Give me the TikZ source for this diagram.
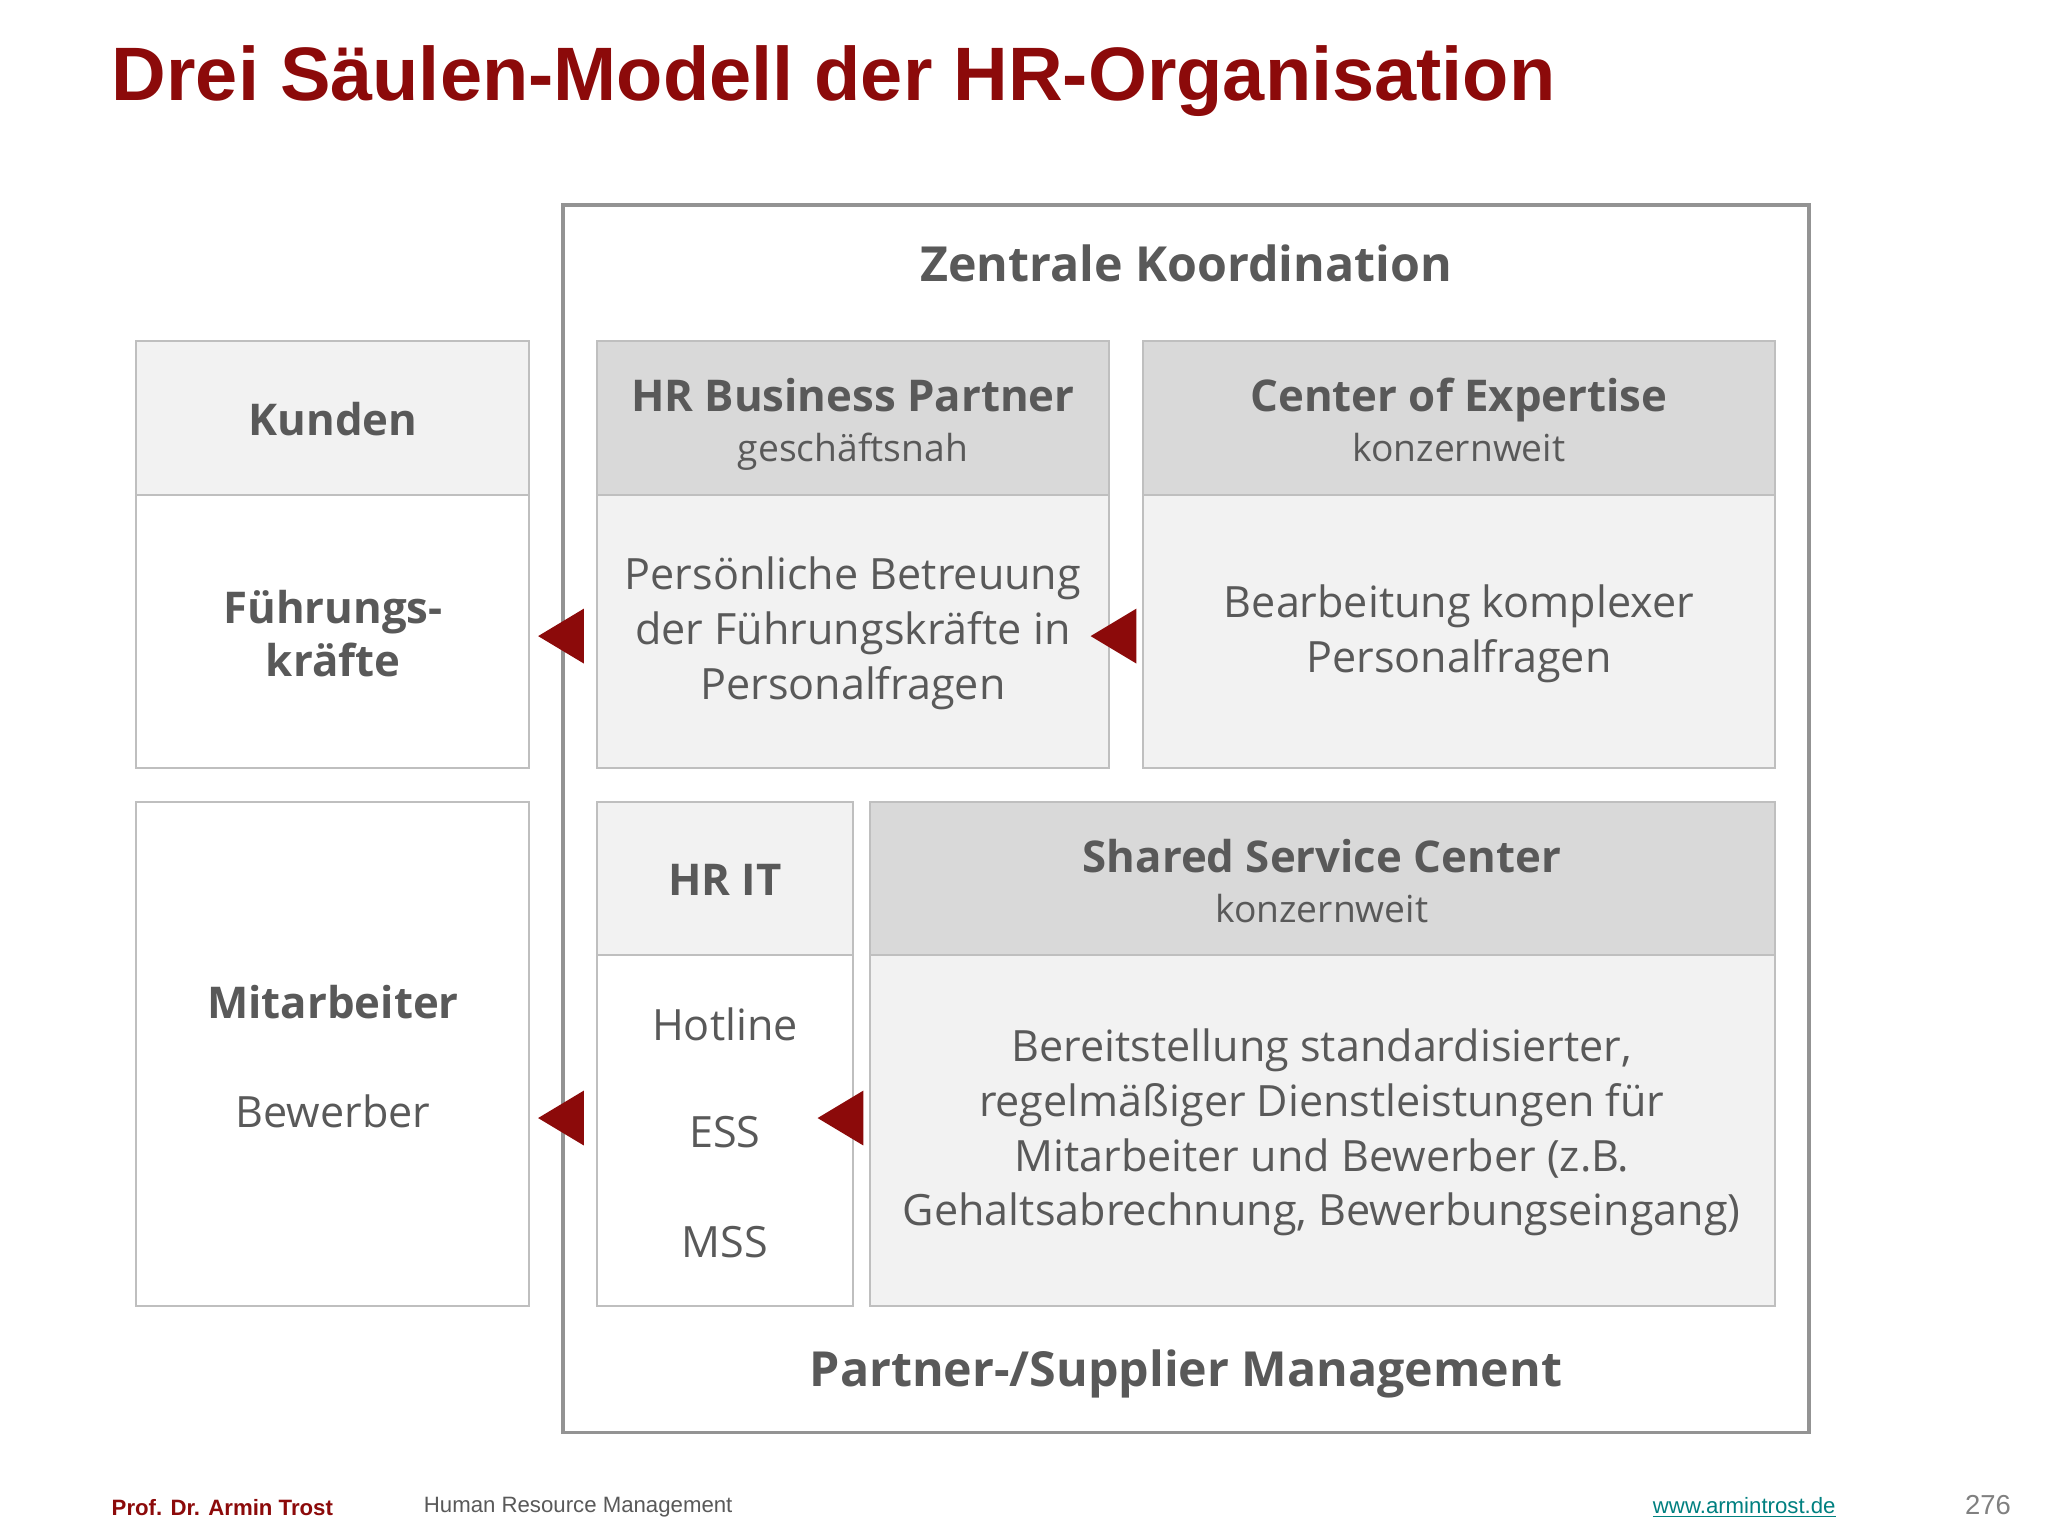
\documentclass[tikz,border=0pt]{standalone}
\usepackage{fontspec}
\setmainfont{Open Sans}
\newfontfamily\titlefont{Liberation Sans}
\begin{document}
\begin{tikzpicture}[x=1pt,y=-1pt,
  txt/.style={text=tg,align=center,font=\fontsize{33}{42}\selectfont},
  sub/.style={text=tg,anchor=base,font=\fontsize{28.5}{30}\selectfont},
  hd/.style={text=tg,align=center,font=\fontsize{33.5}{40}\selectfont\bfseries},
  hb/.style={hd,anchor=base},
  bx/.style={draw=bc,line width=1.5pt},
  tri/.style={fill=tr}]
\definecolor{tg}{HTML}{595959}
\definecolor{bc}{HTML}{BFBFBF}
\definecolor{tr}{HTML}{8C0A0A}
\definecolor{hdark}{HTML}{D9D9D9}
\definecolor{hlight}{HTML}{F2F2F2}
\useasboundingbox (0,0) rectangle (1568,1176);
\fill[white] (0,0) rectangle (1568,1176);
\node[anchor=west,text=tr,font=\titlefont\fontsize{58}{60}\selectfont\bfseries] (title) at (82,62) {Drei Säulen-Modell der HR-Organisation};
\draw[draw=gray!85,line width=2.5pt] (431,157) rectangle (1385,1097);
\node[hd,font=\fontsize{37}{40}\selectfont\bfseries] (zk) at (908,202) {Zentrale Koordination};
\node[hd,font=\fontsize{37}{40}\selectfont\bfseries] (psm) at (908,1052) {Partner-/Supplier Management};
% Kunden
\fill[hlight] (104,261) rectangle (405,379);
\draw[bx] (104,261) rectangle (405,588); \draw[bx] (104,379) -- (405,379);
\node[hd] (kun) at (255,321) {Kunden};
\node[hd] (fk) at (255,485) {Führungs-\\kräfte};
% HRBP
\fill[hdark] (457,261) rectangle (849,379); \fill[hlight] (457,379) rectangle (849,588);
\draw[bx] (457,261) rectangle (849,588); \draw[bx] (457,379) -- (849,379);
\node[hb] (hrbp) at (653,315) {HR Business Partner};
\node[sub] (gn) at (653,353) {geschäftsnah};
\node[txt] (pb) at (653,485) {Persönliche Betreuung\\der Führungskräfte in\\Personalfragen};
% CoE
\fill[hdark] (875,261) rectangle (1359,379); \fill[hlight] (875,379) rectangle (1359,588);
\draw[bx] (875,261) rectangle (1359,588); \draw[bx] (875,379) -- (1359,379);
\node[hb] (coe) at (1117,315) {Center of Expertise};
\node[sub] (kw1) at (1117,353) {konzernweit};
\node[txt] (bk) at (1117,485) {Bearbeitung komplexer\\Personalfragen};
% Mitarbeiter
\draw[bx] (104,614) rectangle (405,1000);
\node[hd] (ma) at (255,767) {Mitarbeiter};
\node[txt] (bw) at (255,851) {Bewerber};
% HR IT
\fill[hlight] (457,614) rectangle (653,731);
\draw[bx] (457,614) rectangle (653,1000); \draw[bx] (457,731) -- (653,731);
\node[hd] (hrit) at (555,674) {HR IT};
\node[txt] (hl) at (555,784) {Hotline};
\node[txt] (ess) at (555,867) {ESS};
\node[txt] (mss) at (555,951) {MSS};
% SSC
\fill[hdark] (666,614) rectangle (1359,731); \fill[hlight] (666,731) rectangle (1359,1000);
\draw[bx] (666,614) rectangle (1359,1000); \draw[bx] (666,731) -- (1359,731);
\node[hb] (ssc) at (1012,668) {Shared Service Center};
\node[sub] (kw2) at (1012,706) {konzernweit};
\node[txt] (bs) at (1012,867) {Bereitstellung standardisierter,\\regelmäßiger Dienstleistungen für\\Mitarbeiter und Bewerber (z.B.\\Gehaltsabrechnung, Bewerbungseingang)};
% arrows
\coordinate (a1) at (412,487); \coordinate (a2) at (835,487);
\coordinate (a3) at (412,856); \coordinate (a4) at (626,856);
\foreach \c in {a1,a2,a3,a4}{
  \fill[tri] (\c) -- ++(35,-21) -- ++(0,42) -- cycle;}
% footer
\node[anchor=west,text=tr,font=\titlefont\fontsize{17}{18}\selectfont\bfseries] (au) at (82,1154) {Prof. Dr. Armin Trost};
\node[anchor=west,text=tg,font=\titlefont\fontsize{17}{18}\selectfont] (hrm) at (321,1154) {Human Resource Management};
\node[anchor=west,text=teal,font=\titlefont\fontsize{17}{18}\selectfont] (url) at (1262,1154) {\underline{www.armintrost.de}};
\node[anchor=west,text=gray,font=\titlefont\fontsize{21}{22}\selectfont] (pg) at (1501,1152) {276};
\end{tikzpicture}
\end{document}
